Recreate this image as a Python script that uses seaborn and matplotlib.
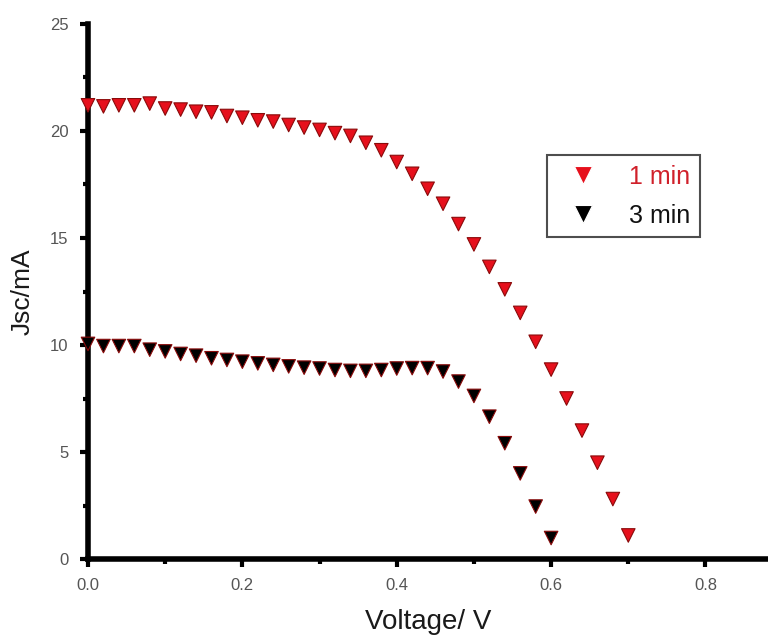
import numpy as np
import pandas as pd
import matplotlib
matplotlib.use("Agg")
import matplotlib.pyplot as plt
import seaborn as sns

# ---- data ----
v_1min = [0.00, 0.02, 0.04, 0.06, 0.08, 0.10, 0.12, 0.14, 0.16, 0.18,
          0.20, 0.22, 0.24, 0.26, 0.28, 0.30, 0.32, 0.34, 0.36, 0.38,
          0.40, 0.42, 0.44, 0.46, 0.48, 0.50, 0.52, 0.54, 0.56, 0.58,
          0.60, 0.62, 0.64, 0.66, 0.68, 0.70]
j_1min = [21.2, 21.15, 21.2, 21.2, 21.28, 21.05, 21.0, 20.9, 20.87, 20.7,
          20.62, 20.5, 20.44, 20.28, 20.16, 20.05, 19.9, 19.77, 19.45, 19.1,
          18.55, 18.0, 17.3, 16.6, 15.65, 14.7, 13.65, 12.6, 11.5, 10.15,
          8.85, 7.5, 6.0, 4.5, 2.8, 1.1]

v_3min = [0.00, 0.02, 0.04, 0.06, 0.08, 0.10, 0.12, 0.14, 0.16, 0.18,
          0.20, 0.22, 0.24, 0.26, 0.28, 0.30, 0.32, 0.34, 0.36, 0.38,
          0.40, 0.42, 0.44, 0.46, 0.48, 0.50, 0.52, 0.54, 0.56, 0.58,
          0.60]
j_3min = [10.05, 9.95, 9.95, 9.95, 9.78, 9.7, 9.58, 9.5, 9.38, 9.3,
          9.22, 9.14, 9.07, 9.0, 8.94, 8.9, 8.83, 8.79, 8.79, 8.83,
          8.9, 8.92, 8.92, 8.76, 8.29, 7.62, 6.65, 5.41, 4.0, 2.45,
          0.98]

series_names = ["1 min", "3 min"]
series_colors = {"1 min": "#e6101c", "3 min": "#000000"}
edge_colors = {"1 min": "#8a0a0a", "3 min": "#000000"}
label_colors = {"1 min": "#d0202a", "3 min": "#111111"}

x_ticks = [0.0, 0.2, 0.4, 0.6, 0.8]
x_tick_labels = ["0.0", "0.2", "0.4", "0.6", "0.8"]
y_ticks = [0, 5, 10, 15, 20, 25]
y_tick_labels = ["0", "5", "10", "15", "20", "25"]

df = pd.concat([
    pd.DataFrame({"Voltage": v_1min, "Jsc": j_1min, "Time": "1 min"}),
    pd.DataFrame({"Voltage": v_3min, "Jsc": j_3min, "Time": "3 min"}),
], ignore_index=True)

sns.set_style("white")
plt.rcParams["font.family"] = ["Liberation Sans", "DejaVu Sans"]

fig = plt.figure(figsize=(7.68, 6.37), dpi=100)
ax = fig.add_axes([88 / 768, 1 - 559 / 637, 1 - 88 / 768, (559 - 24) / 637])

sns.scatterplot(data=df, x="Voltage", y="Jsc", hue="Time", hue_order=series_names,
                palette=series_colors, marker="v", s=95, linewidth=0.8,
                ax=ax, clip_on=False, zorder=3)
for coll, name in zip(ax.collections, series_names):
    coll.set_edgecolor(edge_colors[name])

ax.set_xlim(0, 0.881)
ax.set_ylim(0, 25)

ax.set_xticks(x_ticks)
ax.set_xticklabels(x_tick_labels)
ax.set_yticks(y_ticks)
ax.set_yticklabels(y_tick_labels)
ax.set_xticks([0.1, 0.3, 0.5, 0.7], minor=True)
ax.set_yticks([2.5, 7.5, 12.5, 17.5, 22.5], minor=True)

for side in ["top", "right"]:
    ax.spines[side].set_visible(False)
for side in ["left", "bottom"]:
    ax.spines[side].set_linewidth(4.0)
    ax.spines[side].set_color("black")
    ax.spines[side].set_capstyle("projecting")

ax.tick_params(axis="both", which="major", direction="out", length=6,
               width=3.0, color="black", labelsize=12, labelcolor="#555555", pad=8,
               bottom=True, left=True)
ax.tick_params(axis="both", which="minor", direction="out", length=3.5,
               width=3.0, color="black", bottom=True, left=True)

ax.set_xlabel("Voltage/ V", fontsize=20, color="#1a1a1a", labelpad=11)
ax.set_ylabel("Jsc/mA", fontsize=19, color="#1a1a1a", labelpad=11)

handles, labels = ax.get_legend_handles_labels()
leg = ax.legend(handles, labels, loc="upper left", bbox_to_anchor=(0.675, 0.755),
                borderaxespad=0, frameon=True, fancybox=False, fontsize=18,
                markerscale=1.3, handlelength=2.1, handletextpad=0.8,
                borderpad=0.38, labelspacing=0.6, edgecolor="#222222")
leg.get_frame().set_linewidth(1.5)
for txt in leg.get_texts():
    txt.set_color(label_colors[txt.get_text()])

fig.savefig("out.png", dpi=100)
